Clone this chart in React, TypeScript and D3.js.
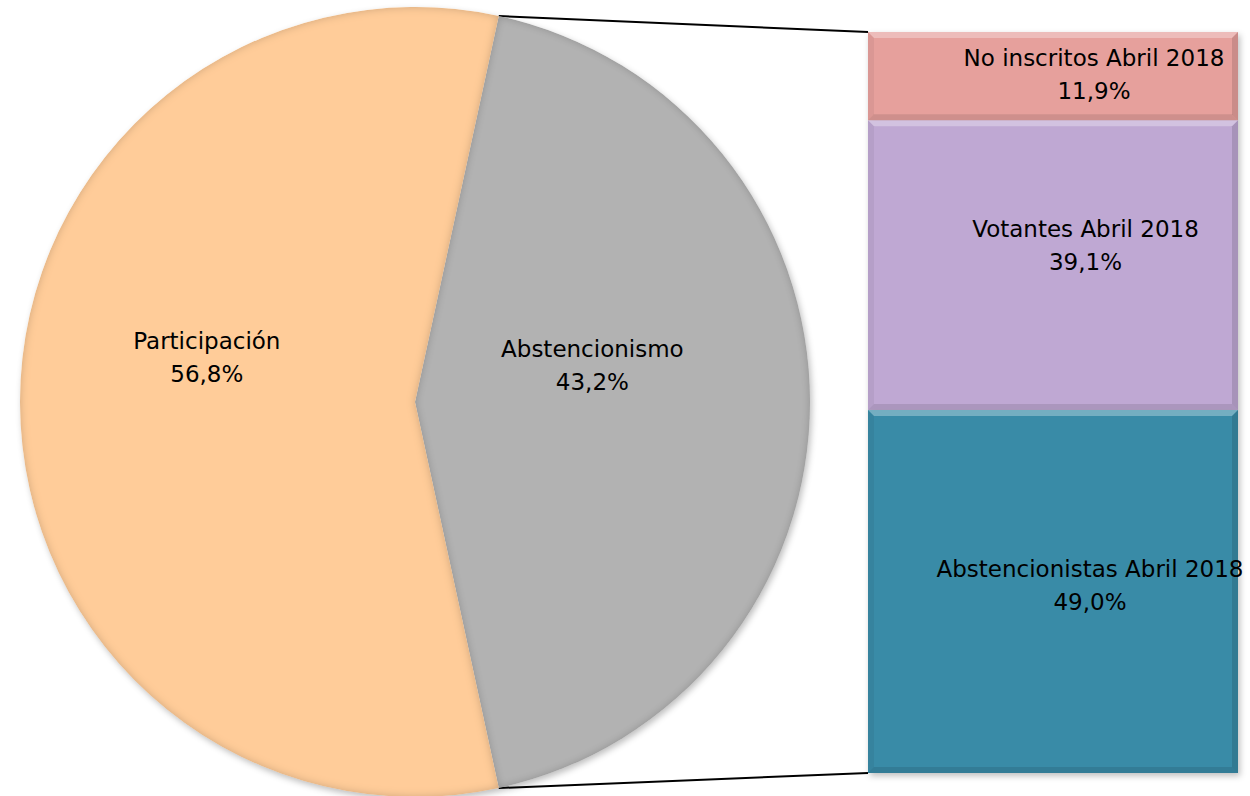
import React from "react";
import * as d3 from "d3";

const pieLabels = ["Abstencionismo", "Participación"];
const pieValues = [43.2, 56.8];
const pieColors = ["#B2B2B2", "#FFCC99"];

const barLabels = ["Abstencionistas Abril 2018", "Votantes Abril 2018", "No inscritos Abril 2018"];
const barValues = [49.0, 39.1, 11.9];
const barColors = ["#398BA7", "#BFA8D3", "#E6A09C"];

const fmt = (v: number) => v.toFixed(1).replace(".", ",") + "%";

const W = 1250;
const H = 796;
const cx = 415;
const cy = 402;
const R = 395;
const barX0 = 868;
const barX1 = 1238;
const barTop = 32;
const barBottom = 773;
const FONT = "'DejaVu Sans', Verdana, sans-serif";
const FS = 23;
const LH = 33;

// label layout (radial factor, vertical shift)
const pieLabelLayout = [
  { f: 0.449, dy: -45 },
  { f: 0.527, dy: -53 },
];
const barLabelLayout = [
  { dx: 37, dy: -14.5 },
  { dx: 32.5, dy: -28 },
  { dx: 41, dy: -10 },
];

export default function App() {
  const total = d3.sum(pieValues);
  const a0 = (pieValues[0] / total) * 2 * Math.PI;
  const start = Math.PI / 2 - a0 / 2;
  const pie = d3
    .pie<number>()
    .sort(null)
    .value((d) => d)
    .startAngle(start)
    .endAngle(start + 2 * Math.PI);
  const arcs = pie(pieValues);
  const arc = d3.arc<d3.PieArcDatum<number>>().innerRadius(0).outerRadius(R);

  const pt = (ang: number) => [cx + R * Math.sin(ang), cy - R * Math.cos(ang)];
  const pTop = pt(arcs[0].startAngle);
  const pBot = pt(arcs[0].endAngle);

  const yScale = d3.scaleLinear().domain([0, d3.sum(barValues)]).range([barBottom, barTop]);
  let acc = 0;
  const segs = barValues.map((v, i) => {
    const s = { i, v, y0: yScale(acc + v), y1: yScale(acc) };
    acc += v;
    return s;
  });
  const bv = 6;
  const bx = barX0;
  const bw = barX1 - barX0;

  return (
    <svg width={W} height={H} style={{ display: "block", position: "absolute", left: 0, top: 0 }} xmlns="http://www.w3.org/2000/svg">
      <defs>
        <filter id="bevel" x="-5%" y="-5%" width="110%" height="110%">
          <feGaussianBlur in="SourceAlpha" stdDeviation="4" result="blur" />
          <feComposite in="SourceAlpha" in2="blur" operator="arithmetic" k2="1" k3="-1" result="edge" />
          <feFlood floodColor="#000" floodOpacity="0.4" />
          <feComposite in2="edge" operator="in" result="shadow" />
          <feMerge>
            <feMergeNode in="SourceGraphic" />
            <feMergeNode in="shadow" />
          </feMerge>
        </filter>
        <filter id="drop" x="-5%" y="-5%" width="110%" height="110%">
          <feGaussianBlur in="SourceAlpha" stdDeviation="3" />
          <feOffset dx="2" dy="3" result="b" />
          <feFlood floodColor="#000" floodOpacity="0.25" />
          <feComposite in2="b" operator="in" />
        </filter>
      </defs>
      {/* connector lines */}
      <line x1={pTop[0]} y1={pTop[1]} x2={barX0} y2={barTop} stroke="#000" strokeWidth={2} />
      <line x1={pBot[0]} y1={pBot[1]} x2={barX0} y2={barBottom} stroke="#000" strokeWidth={2} />
      {/* pie shadow */}
      <circle cx={cx} cy={cy} r={R} fill="#000" filter="url(#drop)" />
      <g transform={`translate(${cx},${cy})`}>
        {arcs.map((a, i) => (
          <path key={i} d={arc(a) || ""} fill={pieColors[i]} filter="url(#bevel)" />
        ))}
      </g>
      {arcs.map((a, i) => {
        const m = (a.startAngle + a.endAngle) / 2;
        const lx = cx + pieLabelLayout[i].f * R * Math.sin(m);
        const ly = cy - pieLabelLayout[i].f * R * Math.cos(m) + pieLabelLayout[i].dy;
        return (
          <text key={i} x={lx} y={ly} textAnchor="middle" fontFamily={FONT} fontSize={FS} fill="#000">
            <tspan x={lx} dy={0}>{pieLabels[i]}</tspan>
            <tspan x={lx} dy={LH}>{fmt(pieValues[i])}</tspan>
          </text>
        );
      })}
      {/* bar */}
      <rect x={bx} y={barTop} width={bw} height={barBottom - barTop} fill="#000" filter="url(#drop)" />
      {segs.map((s) => {
        const x0 = bx, x1 = bx + bw, y0 = s.y0, y1 = s.y1;
        return (
          <g key={s.i}>
            <rect x={x0} y={y0} width={bw} height={y1 - y0} fill={barColors[s.i]} />
            <polygon points={`${x0},${y0} ${x1},${y0} ${x1 - bv},${y0 + bv} ${x0 + bv},${y0 + bv}`} fill="#fff" opacity={0.3} />
            <polygon points={`${x0},${y1} ${x1},${y1} ${x1 - bv},${y1 - bv} ${x0 + bv},${y1 - bv}`} fill="#000" opacity={0.1} />
            <polygon points={`${x0},${y0} ${x0 + bv},${y0 + bv} ${x0 + bv},${y1 - bv} ${x0},${y1}`} fill="#000" opacity={0.05} />
            <polygon points={`${x1},${y0} ${x1 - bv},${y0 + bv} ${x1 - bv},${y1 - bv} ${x1},${y1}`} fill="#000" opacity={0.12} />
          </g>
        );
      })}
      {segs.map((s) => {
        const lx = bx + bw / 2 + barLabelLayout[s.i].dx;
        const ly = (s.y0 + s.y1) / 2 + barLabelLayout[s.i].dy;
        return (
          <text key={s.i} x={lx} y={ly} textAnchor="middle" fontFamily={FONT} fontSize={FS} fill="#000">
            <tspan x={lx} dy={0}>{barLabels[s.i]}</tspan>
            <tspan x={lx} dy={LH}>{fmt(s.v)}</tspan>
          </text>
        );
      })}
    </svg>
  );
}
